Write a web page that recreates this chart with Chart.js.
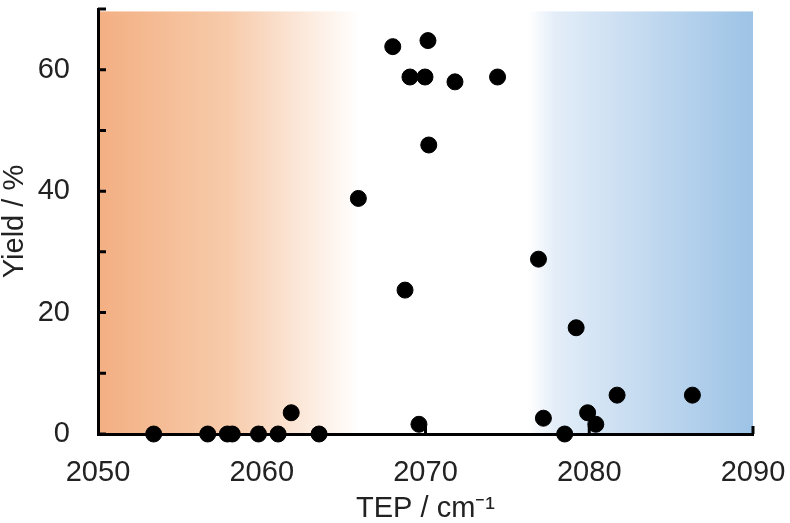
<!DOCTYPE html>
<html>
<head>
<meta charset="utf-8">
<script src="https://cdn.jsdelivr.net/npm/chart.js@4.4.1/dist/chart.umd.min.js"></script>
<style>
  html, body { margin: 0; padding: 0; background: #fff; }
  #wrap { width: 790px; height: 523px; position: relative; }
</style>
</head>
<body>
<div id="wrap"><canvas id="tepChart"></canvas></div>
<script>
// TEP (cm-1) vs yield (%)
const tepValues = [
  2053.4, 2056.7, 2057.9, 2058.2, 2059.8, 2061.0, 2063.5, 2061.8,
  2065.9, 2068.0, 2068.75, 2069.6, 2070.15, 2069.05, 2069.97, 2071.8,
  2074.4, 2070.2, 2076.9, 2079.2, 2081.7, 2086.3, 2077.2, 2079.9,
  2080.4, 2078.5
];
const yieldValues = [
  0, 0, 0, 0, 0, 0, 0, 3.5,
  38.8, 63.8, 23.7, 1.6, 64.8, 58.8, 58.8, 58.0,
  58.8, 47.6, 28.8, 17.5, 6.4, 6.4, 2.6, 3.5,
  1.6, 0
];
const xTicks = [2050, 2060, 2070, 2080, 2090];
const yLabelTicks = [0, 20, 40, 60];

// shaded regions (TEP ranges)
const orangeRange = [2050, 2066];
const blueRange = [2076.3, 2090];

const points = tepValues.map((x, i) => ({ x: x, y: yieldValues[i] }));

const shading = {
  id: 'shading',
  beforeDraw(chart) {
    const { ctx, chartArea, scales } = chart;
    if (!chartArea) return;
    const top = scales.y.getPixelForValue(69.6);
    const bottom = chartArea.bottom;
    ctx.save();
    let x0 = scales.x.getPixelForValue(orangeRange[0]);
    let x1 = scales.x.getPixelForValue(orangeRange[1]);
    let g = ctx.createLinearGradient(x0, 0, x1, 0);
    g.addColorStop(0, '#F3AF82');
    g.addColorStop(0.5, '#F7CBAB');
    g.addColorStop(1, 'rgba(255,255,255,1)');
    ctx.fillStyle = g;
    ctx.fillRect(x0, top, x1 - x0, bottom - top);
    x0 = scales.x.getPixelForValue(blueRange[0]);
    x1 = scales.x.getPixelForValue(blueRange[1]);
    g = ctx.createLinearGradient(x0, 0, x1, 0);
    g.addColorStop(0, 'rgba(255,255,255,1)');
    g.addColorStop(0.12, '#E3EDF8');
    g.addColorStop(1, '#9DC3E6');
    ctx.fillStyle = g;
    ctx.fillRect(x0, top, x1 - x0, bottom - top);
    ctx.restore();
  }
};

// inward tick marks like the original figure
const innerTicks = {
  id: 'innerTicks',
  beforeDatasetsDraw(chart) {
    const { ctx, chartArea, scales } = chart;
    ctx.save();
    ctx.strokeStyle = '#000';
    ctx.lineWidth = 3;
    ctx.beginPath();
    scales.y.ticks.forEach(t => {
      const py = scales.y.getPixelForValue(t.value);
      ctx.moveTo(chartArea.left, py);
      ctx.lineTo(chartArea.left + 8, py);
    });
    scales.x.ticks.forEach(t => {
      if (t.value === xTicks[0]) return;
      const px = scales.x.getPixelForValue(t.value);
      ctx.moveTo(px, chartArea.bottom);
      ctx.lineTo(px, chartArea.bottom - 8);
    });
    ctx.stroke();
    ctx.restore();
  }
};

const tickFont = { family: 'Liberation Sans, Arial, sans-serif', size: 29 };
const titleFont = { family: 'Liberation Sans, Arial, sans-serif', size: 29, lineHeight: 1.0 };

new Chart(document.getElementById('tepChart'), {
  type: 'scatter',
  data: {
    datasets: [{
      label: 'Yield',
      data: points,
      backgroundColor: '#000',
      borderColor: '#000',
      pointRadius: 8,
      pointHoverRadius: 8,
      clip: false
    }]
  },
  options: {
    responsive: true,
    maintainAspectRatio: false,
    animation: false,
    layout: { padding: { top: 8, right: 37, left: 0, bottom: 0 } },
    plugins: {
      legend: { display: false },
      tooltip: { enabled: false }
    },
    scales: {
      x: {
        type: 'linear',
        min: 2050,
        max: 2090,
        afterBuildTicks: (axis) => { axis.ticks = xTicks.map(v => ({ value: v })); },
        afterFit: (axis) => {
          axis.height = 89;
          axis.paddingLeft = 0;
          axis.paddingRight = 0;
        },
        grid: { display: false, drawTicks: false },
        border: { display: true, color: '#000', width: 3 },
        ticks: {
          color: '#222',
          font: tickFont,
          padding: 22,
          maxRotation: 0,
          callback: (v) => String(v)
        },
        title: {
          display: true,
          text: 'TEP / cm\u207B\u00B9',
          color: '#222',
          font: titleFont,
          padding: { top: 0, bottom: 0 }
        }
      },
      y: {
        min: 0,
        max: 70,
        afterFit: (axis) => {
          axis.width = 98;
          axis.paddingTop = 0;
          axis.paddingBottom = 0;
        },
        grid: { display: false, drawTicks: false },
        border: { display: true, color: '#000', width: 3 },
        ticks: {
          stepSize: 10,
          color: '#222',
          font: tickFont,
          padding: 28,
          callback: (v) => (yLabelTicks.includes(v) ? String(v) : '')
        },
        title: {
          display: true,
          text: 'Yield / %',
          color: '#222',
          font: titleFont,
          padding: { top: 0, bottom: 0 }
        }
      }
    }
  },
  plugins: [shading, innerTicks]
});
</script>
</body>
</html>
